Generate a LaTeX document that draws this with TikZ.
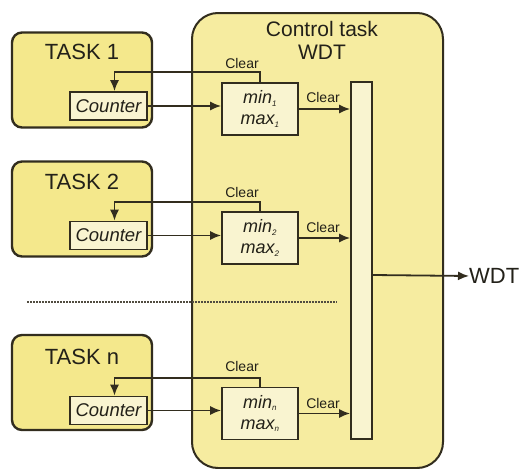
\documentclass[tikz,border=0pt]{standalone}
\usepackage{fontspec}
\setmainfont{Liberation Sans}
\usetikzlibrary{arrows.meta}
\definecolor{yfill}{RGB}{244,232,140}
\definecolor{cfill}{RGB}{246,236,160}
\definecolor{cream}{RGB}{249,244,208}
\definecolor{bord}{RGB}{50,45,30}
\definecolor{txt}{RGB}{35,33,25}
\tikzset{
  taskbox/.style={draw=bord, line width=2.4pt, fill=yfill, rounded corners=10pt, minimum width=140pt, minimum height=95pt, inner sep=0pt},
  ctrlbox/.style={draw=bord, line width=2pt, fill=cfill, rounded corners=26pt, minimum width=251pt, minimum height=455pt, inner sep=0pt},
  cntbox/.style={draw=bord, line width=1.6pt, fill=cream, minimum width=77pt, minimum height=28pt, inner sep=0pt, font=\fontsize{18.5}{18.5}\selectfont\itshape, text=txt},
  mmbox/.style={draw=bord, line width=1.6pt, fill=cream, minimum width=76pt, minimum height=52pt, inner sep=0pt, align=center, font=\fontsize{18}{21}\selectfont\itshape, text=txt},
  barbox/.style={draw=bord, line width=1.6pt, fill=cream, minimum width=21pt, minimum height=357pt, inner sep=0pt},
  tlabel/.style={font=\fontsize{22}{22}\selectfont, text=txt, inner sep=0pt},
  clr/.style={font=\fontsize{14}{14}\selectfont, text=txt, inner sep=0pt},
  arr/.style={draw=bord, line width=1.8pt, -{Latex[length=11pt,width=9pt]}},
}
\begin{document}
\begin{tikzpicture}[x=1pt,y=-1pt]
\useasboundingbox (0,0) rectangle (520,469);
\fill[white] (0,0) rectangle (520,469);
% control task
\node[ctrlbox] (ctrl) at (317.5,240.5) {};
\node[font=\fontsize{21}{23}\selectfont, text=txt, align=center, inner sep=0pt] (ctitle) at (322,40) {Control task\\WDT};
\node[barbox] (bar) at (361.5,260.5) {};
% tasks
\node[taskbox] (t1) at (82,80) {};
\node[tlabel] (t1l) at (82,52) {TASK 1};
\node[cntbox] (c1) at (108.5,106) {Counter};
\node[mmbox] (m1) at (260,109) {min\textsubscript{\fontsize{8}{8}\selectfont 1}\\max\textsubscript{\fontsize{8}{8}\selectfont 1}};

\node[taskbox] (t2) at (82,209) {};
\node[tlabel] (t2l) at (82,182) {TASK 2};
\node[cntbox] (c2) at (108.5,235.5) {Counter};
\node[mmbox] (m2) at (260,238) {min\textsubscript{\fontsize{8}{8}\selectfont 2}\\max\textsubscript{\fontsize{8}{8}\selectfont 2}};

\node[taskbox] (tn) at (82,382.5) {};
\node[tlabel] (tnl) at (82,357) {TASK n};
\node[cntbox] (cn) at (108.5,410.5) {Counter};
\node[mmbox] (mn) at (260,413.5) {min\textsubscript{\fontsize{8}{8}\selectfont n}\\max\textsubscript{\fontsize{8}{8}\selectfont n}};

% dotted separator
\coordinate (d1) at (27,302);
\coordinate (d2) at (337,302);
\draw[draw=bord!85, line width=1.8pt, dash pattern=on 1.5pt off 1.5pt] (d1) -- (d2);

% connections
\foreach \c/\m/\fy in {c1/m1/72, c2/m2/202, cn/mn/378}{
  \draw[arr] (\c.east) -- (\c.east -| \m.west);
  \draw[arr] (\m.north) -- (\m.north |- 0,\fy) -- ([xshift=6pt]\c.north |- 0,\fy) -- ([xshift=6pt]\c.north);
  \draw[arr] (\m.east) -- (\m.east -| bar.west);
}
\node[clr] (cl1a) at (242,63) {Clear};
\node[clr] (cl1b) at (323,97) {Clear};
\node[clr] (cl2a) at (242,192) {Clear};
\node[clr] (cl2b) at (323,227) {Clear};
\node[clr] (clna) at (242,366) {Clear};
\node[clr] (clnb) at (323,403) {Clear};

% WDT output
\coordinate (wo) at (bar.east |- 0,275);
\node[font=\fontsize{22}{22}\selectfont, text=txt, anchor=west, inner sep=0pt] (wdt) at (469,276) {WDT};
\draw[arr] (wo) -- (wdt.west);
\end{tikzpicture}
\end{document}
